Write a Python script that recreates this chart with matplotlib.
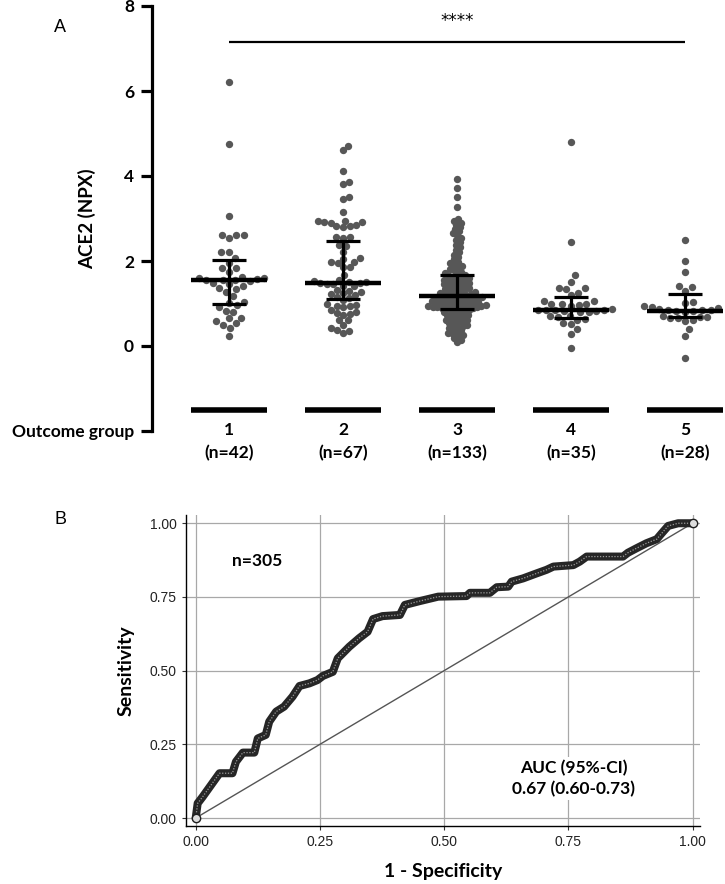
import numpy as np
import matplotlib
matplotlib.use("Agg")
import matplotlib.pyplot as plt

plt.rcParams['font.family'] = ['Lato', 'DejaVu Sans']

# ---- panel A: ACE2 per outcome group ----
groups = ['1', '2', '3', '4', '5']
group_n = ['(n=42)', '(n=67)', '(n=133)', '(n=35)', '(n=28)']

g1 = [6.2, 4.75, 3.05, 2.6, 2.6, 2.55, 2.6, 2.22, 2.22, 2.07, 1.95, 1.84, 1.84, 1.75,
      1.62, 1.6, 1.58, 1.55, 1.55, 1.55, 1.52, 1.6, 1.48, 1.45, 1.42, 1.36, 1.34, 1.28,
      1.18, 1.04, 1.02, 0.96, 0.92, 0.82, 0.8, 0.67, 0.65, 0.58, 0.54, 0.5, 0.42, 0.24]
g2 = [4.7, 4.6, 4.12, 3.85, 3.82, 3.5, 3.45, 3.16,
      2.95, 2.93, 2.92, 2.92, 2.9, 2.85, 2.82, 2.82, 2.8,
      2.57, 2.56, 2.55, 2.38, 2.36, 2.22, 2.07, 2.05, 1.98, 1.98, 1.96, 1.87, 1.86, 1.67,
      1.55, 1.52, 1.5, 1.5, 1.48, 1.48, 1.46, 1.45, 1.42, 1.4,
      1.32, 1.3, 1.28, 1.25, 1.22, 1.2, 1.16, 1.12, 1.08,
      0.98, 0.96, 0.95, 0.93, 0.92, 0.85,
      0.8, 0.78, 0.76, 0.74, 0.62, 0.6, 0.5, 0.42, 0.38, 0.36, 0.3]
g3 = [3.92, 3.71, 3.51, 3.28, 2.98, 2.94, 2.9, 2.85, 2.8, 2.75, 2.7, 2.65, 2.6, 2.55,
      2.5, 2.45, 2.38, 2.32, 2.27, 2.2, 2.15, 2.1, 2.04,
      1.98, 1.95, 1.92, 1.88, 1.85, 1.8, 1.78, 1.75, 1.72, 1.7,
      1.66, 1.65, 1.63, 1.62, 1.6, 1.58, 1.56, 1.55, 1.53, 1.52, 1.5, 1.48, 1.47, 1.45,
      1.43, 1.42, 1.4, 1.38, 1.36, 1.35, 1.33, 1.32, 1.3, 1.28, 1.27, 1.26, 1.25, 1.23,
      1.22, 1.21, 1.2, 1.19, 1.18,
      1.16, 1.15, 1.15, 1.14, 1.13, 1.12, 1.11, 1.1, 1.09, 1.08, 1.07, 1.06, 1.05, 1.04,
      1.03, 1.02, 1.01, 1.0, 0.99, 0.98, 0.98, 0.97, 0.96, 0.95, 0.94, 0.93, 0.92, 0.92,
      0.91, 0.9, 0.9, 0.89, 0.89, 0.88,
      0.86, 0.84, 0.82, 0.8, 0.79, 0.77, 0.75, 0.73, 0.72, 0.7, 0.68, 0.66, 0.64, 0.62,
      0.6, 0.58, 0.56, 0.54, 0.52, 0.5, 0.47, 0.45, 0.42, 0.4, 0.37, 0.34, 0.31, 0.28,
      0.25, 0.22, 0.18, 0.14, 0.1]
g4 = [4.8, 2.45, 1.67, 1.51, 1.36, 1.36, 1.34, 1.25, 1.2, 1.07, 1.05, 0.99, 0.99, 0.98,
      0.97, 0.95, 0.86, 0.85, 0.85, 0.84, 0.84, 0.83, 0.82, 0.8, 0.79, 0.7, 0.7, 0.68,
      0.64, 0.62, 0.55, 0.52, 0.4, 0.28, -0.05]
g5 = [2.49, 2.0, 1.75, 1.42, 1.38, 1.3, 1.04, 1.02, 0.93, 0.92, 0.9, 0.86, 0.85, 0.85,
      0.84, 0.83, 0.82, 0.8, 0.7, 0.69, 0.68, 0.67, 0.66, 0.6, 0.58, 0.39, 0.24, -0.28]
group_values = [g1, g2, g3, g4, g5]

medians = [1.55, 1.48, 1.17, 0.85, 0.83]
q1 = [1.0, 1.1, 0.88, 0.65, 0.68]
q3 = [2.02, 2.48, 1.68, 1.15, 1.22]
sig_label = '****'
sig_level = 7.15

# ---- panel B: ROC curve ----
roc_fpr = [0.0, 0.004, 0.014, 0.031, 0.048, 0.074, 0.081, 0.095, 0.118, 0.125,
           0.141, 0.148, 0.162, 0.178, 0.195, 0.209, 0.229, 0.245, 0.256, 0.276,
           0.286, 0.309, 0.329, 0.346, 0.357, 0.376, 0.411, 0.421, 0.451, 0.488,
           0.545, 0.552, 0.592, 0.606, 0.629, 0.636, 0.659, 0.683, 0.706, 0.72,
           0.76, 0.773, 0.787, 0.86, 0.87, 0.887, 0.907, 0.928, 0.938, 0.951, 0.971, 1.0]
roc_tpr = [0.0, 0.05, 0.072, 0.112, 0.152, 0.152, 0.191, 0.222, 0.222, 0.27,
           0.282, 0.327, 0.361, 0.378, 0.412, 0.448, 0.457, 0.468, 0.482, 0.496,
           0.542, 0.581, 0.61, 0.632, 0.675, 0.685, 0.689, 0.723, 0.736, 0.751,
           0.753, 0.764, 0.764, 0.783, 0.785, 0.802, 0.813, 0.828, 0.842, 0.853,
           0.858, 0.87, 0.887, 0.887, 0.9, 0.915, 0.932, 0.946, 0.966, 0.991, 1.0, 1.0]
n_total = 'n=305'
auc_text = 'AUC (95%-CI)\n0.67 (0.60-0.73)'


def swarm_offsets(ypix, d):
    # simple beeswarm: put each point as close to the centre as possible
    order = np.argsort(ypix)
    placed = []
    xs = np.zeros(len(ypix))
    for i in order:
        y = ypix[i]
        near = [(px, py) for px, py in placed if abs(py - y) < d]
        cands = [0.0]
        for px, py in near:
            dx = np.sqrt(d ** 2 - (py - y) ** 2)
            cands += [px + dx, px - dx]
        cands.sort(key=lambda c: (round(abs(c), 6), -c))
        for c in cands:
            if all((c - px) ** 2 + (y - py) ** 2 >= d ** 2 - 1e-6 for px, py in near):
                xs[i] = c
                break
        placed.append((xs[i], y))
    return xs


W, H = 725, 884
fig = plt.figure(figsize=(W / 100, H / 100), dpi=100)

# ---------------- panel A ----------------
ax1 = fig.add_axes([152 / W, 1 - 431 / H, (725 - 152) / W, (431 - 6) / H])
ax1.set_xlim(0.325, 5.35)
ax1.set_ylim(-2, 8)
for s in ['top', 'right', 'bottom']:
    ax1.spines[s].set_visible(False)
ax1.spines['left'].set_linewidth(2.3)
ax1.set_xticks([])
ax1.set_yticks([-2, 0, 2, 4, 6, 8])
ax1.set_yticklabels(['Outcome group', '0', '2', '4', '6', '8'], fontsize=12.5, fontweight='bold')
ax1.tick_params(axis='y', length=8, width=2.3, pad=5)
ax1.set_ylabel('ACE2 (NPX)', fontsize=13.5, fontweight='bold')
ax1.yaxis.set_label_coords(-0.098, 0.5)

spacing = [7.7, 6.6, 4.5, 7.7, 7.7]
inv = ax1.transData.inverted()
for k, vals in enumerate(group_values):
    xc = k + 1
    pts = ax1.transData.transform(np.column_stack([np.full(len(vals), xc), vals]))
    offs = swarm_offsets(pts[:, 1], spacing[k])
    data = inv.transform(np.column_stack([pts[:, 0] + offs, pts[:, 1]]))
    ax1.plot(data[:, 0], data[:, 1], 'o', ms=5.3, color='#575757', mec='none', zorder=2)

    # median + IQR
    ax1.hlines(medians[k], xc - 0.33, xc + 0.33, color='black', lw=3.2, zorder=3)
    ax1.vlines(xc, q1[k], q3[k], color='black', lw=2.3, zorder=3)
    ax1.hlines([q1[k], q3[k]], xc - 0.15, xc + 0.15, color='black', lw=2.3, zorder=3)

    # group bar and labels
    ax1.hlines(-1.5, xc - 0.33, xc + 0.33, color='black', lw=4, zorder=3)
    ax1.text(xc, -1.98, groups[k], ha='center', va='center', fontsize=12.5, fontweight='bold')
    ax1.text(xc, -2.52, group_n[k], ha='center', va='center', fontsize=12.5, fontweight='bold')

ax1.hlines(sig_level, 1, 5, color='black', lw=1.6)
ax1.text(3, sig_level + 0.5, sig_label, ha='center', va='center', fontsize=12,
         family='DejaVu Sans')

fig.text(60 / W, 1 - 28 / H, 'A', fontsize=13, family='Liberation Sans', ha='center', va='center')

# ---------------- panel B ----------------
ax2 = fig.add_axes([186 / W, 1 - 826 / H, (700 - 186) / W, (826 - 515) / H])
ax2.set_xlim(-0.0195, 1.015)
ax2.set_ylim(-0.027, 1.028)
for s in ['top', 'right']:
    ax2.spines[s].set_visible(False)
for s in ['left', 'bottom']:
    ax2.spines[s].set_linewidth(1.0)
ticks = [0, 0.25, 0.5, 0.75, 1.0]
ax2.set_xticks(ticks)
ax2.set_yticks(ticks)
ax2.set_xticklabels(['0.00', '0.25', '0.50', '0.75', '1.00'], family='Liberation Sans')
ax2.set_yticklabels(['0.00', '0.25', '0.50', '0.75', '1.00'], family='Liberation Sans')
ax2.tick_params(labelsize=10, labelcolor='#222222', length=3, width=0.8, color='#333333')
ax2.grid(True, color='#a8a8a8', lw=0.9)
ax2.set_axisbelow(True)

ax2.plot([0, 1], [0, 1], color='#555555', lw=1.0, zorder=2)
ax2.plot(roc_fpr, roc_tpr, color='#262626', lw=5.8, solid_joinstyle='round',
         solid_capstyle='round', zorder=3)
ax2.plot(roc_fpr, roc_tpr, color='#9a9a9a', lw=0.9, ls=(0, (1, 1.3)), zorder=4)
ax2.plot([roc_fpr[0], roc_fpr[-1]], [roc_tpr[0], roc_tpr[-1]], 'o', ms=6,
         mfc='#dddddd', mec='#1e1e1e', mew=1.0, zorder=5)

ax2.text(0.124, 0.872, n_total, ha='center', va='center', fontsize=12.5, fontweight='bold',
         bbox=dict(fc='white', ec='none', pad=2))
ax2.text(0.761, 0.134, auc_text, ha='center', va='center', fontsize=12.5, fontweight='bold',
         linespacing=1.35, bbox=dict(fc='white', ec='none', pad=2))

ax2.set_xlabel('1 - Specificity', fontsize=14, fontweight='bold')
ax2.xaxis.set_label_coords(0.5, -0.118)
ax2.set_ylabel('Sensitivity', fontsize=14, fontweight='bold')
ax2.yaxis.set_label_coords(-0.1, 0.5)

fig.text(60 / W, 1 - 520 / H, 'B', fontsize=13, family='Liberation Sans', ha='center', va='center')

fig.savefig('out.png', dpi=100)
